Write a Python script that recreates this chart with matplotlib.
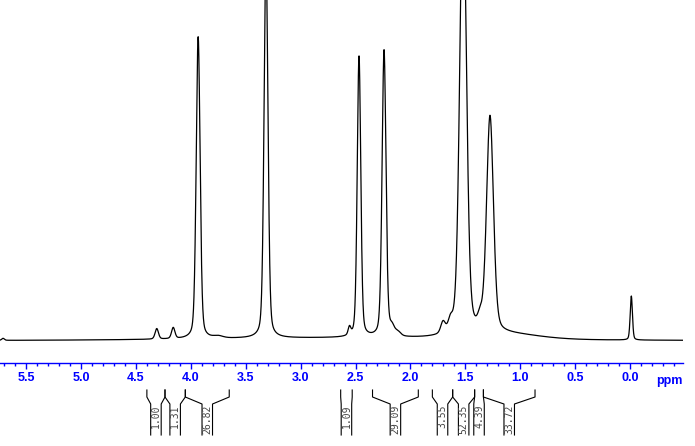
import numpy as np
import matplotlib
matplotlib.use("Agg")
import matplotlib.pyplot as plt
from matplotlib.ticker import MultipleLocator, FormatStrFormatter

# ---- spectrum peaks (ppm, height, half-width ppm) ----
peak_ppm    = [5.71, 4.31, 4.16, 3.933, 3.75, 3.315, 2.555, 2.468, 2.240, 2.168, 2.115,
               1.703, 1.635, 1.520, 1.366, 1.275, -0.012]
peak_height = [2.0, 10.5, 11.0, 302.0, 2.0, 380.0, 8.0, 281.0, 287.0, 8.0, 4.0,
               11.0, 10.0, 450.0, 10.0, 216.0, 44.0]
peak_hwhm   = [0.014, 0.018, 0.018, 0.021, 0.05, 0.021, 0.014, 0.019, 0.021, 0.025, 0.03,
               0.024, 0.024, 0.036, 0.025, 0.037, 0.012]
# broad background humps (ppm, height, sigma ppm)
hump_ppm    = [2.6, 1.15]
hump_height = [2.5, 5.0]
hump_sigma  = [1.3, 0.30]

# ---- integrals ----
int_left   = [4.400, 4.235, 4.050, 2.635, 2.345, 1.800, 1.615, 1.415, 1.335]
int_right  = [4.235, 4.050, 3.650, 2.530, 1.928, 1.615, 1.415, 1.335, 0.865]
int_labels = ["1.00", "1.31", "26.82", "1.09", "29.09", "3.55", "52.35", "4.39", "33.72"]

eta = 0.3
x = np.linspace(5.74, -0.49, 6000)
y = np.zeros_like(x)
for p, h, w in zip(peak_ppm, peak_height, peak_hwhm):
    d2 = (x - p) ** 2
    y += h * (eta * w**2 / (d2 + w**2) + (1 - eta) * np.exp(-np.log(2) * d2 / w**2))
for p, h, s in zip(hump_ppm, hump_height, hump_sigma):
    y += h * np.exp(-0.5 * ((x - p) / s) ** 2)

W, H = 695, 446
fig = plt.figure(figsize=(W / 100, H / 100), dpi=100)
fig.patch.set_facecolor("white")

ax_w = 683 / W
ax = fig.add_axes([0, (H - 363) / H, ax_w, 363 / H])
ax.plot(x, y, color="black", lw=0.9)
ax.set_xlim(630 / 109.8, (630 - 683) / 109.8)
ax.set_ylim(-22.5, 340.5)
for s in ["top", "left", "right"]:
    ax.spines[s].set_visible(False)
ax.spines["bottom"].set_color("#0000ff")
ax.spines["bottom"].set_linewidth(1.0)
ax.set_yticks([])
ax.xaxis.set_major_locator(MultipleLocator(0.5))
ax.xaxis.set_minor_locator(MultipleLocator(0.1))
ax.xaxis.set_major_formatter(FormatStrFormatter("%.1f"))
ax.tick_params(axis="x", which="major", direction="out", length=4.3, width=1.0,
               color="#0000ff", labelcolor="#0000ff", pad=2.5)
ax.tick_params(axis="x", which="minor", direction="out", length=2.2, width=1.0,
               color="#0000ff")
for lab in ax.get_xticklabels():
    lab.set_fontfamily("Liberation Sans")
    lab.set_fontweight("bold")
    lab.set_fontsize(9)
ax.patch.set_alpha(0)

fig.text(683 / W, (H - 381) / H, "ppm", ha="right", va="center", color="#0000ff",
         fontsize=9, fontweight="bold", family="Liberation Sans")

# integral brackets
ai = fig.add_axes([0, 0, ax_w, 61 / H])
ai.set_xlim(ax.get_xlim())
ai.set_ylim(446, 385)
ai.axis("off")
colw = 10.5 / 109.8
for l, r, t in zip(int_left, int_right, int_labels):
    c = (l + r) / 2
    ai.plot([l, l, c + colw / 2, c + colw / 2], [390, 397, 404, 435], color="black", lw=0.8)
    ai.plot([r, r, c - colw / 2, c - colw / 2], [390, 397, 404, 435], color="black", lw=0.8)
    ai.text(c, 405, t, rotation=90, ha="center", va="top", fontsize=7,
            family="DejaVu Sans Mono", color="#444444")

fig.savefig("out.png", dpi=100, facecolor="white")
